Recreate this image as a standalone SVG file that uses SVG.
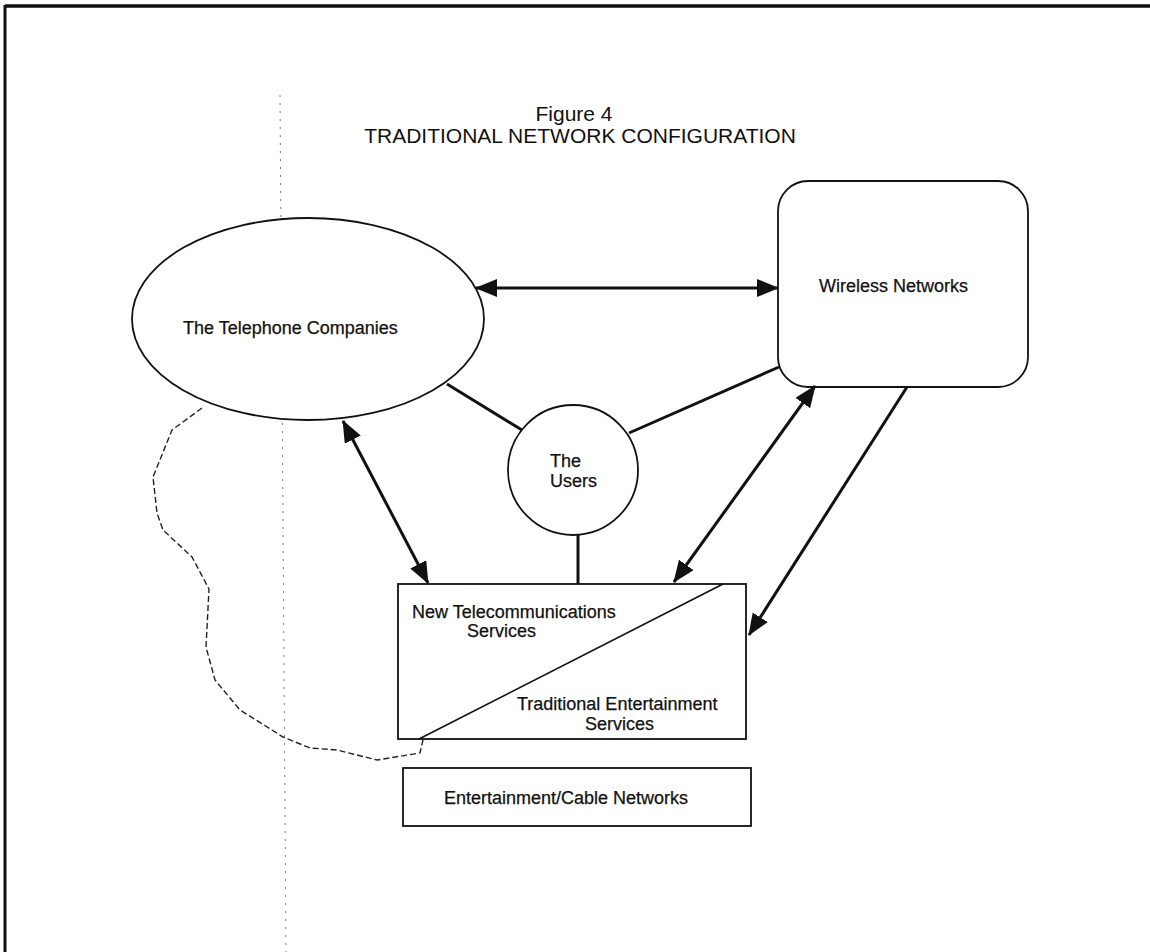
<svg xmlns="http://www.w3.org/2000/svg" width="1150" height="952" viewBox="0 0 1150 952">
<style>
.t{font-family:"Liberation Sans",Arial,sans-serif;font-size:18px;fill:#111;stroke:#111;stroke-width:0.25}
.title{font-family:"Liberation Sans",Arial,sans-serif;font-size:21px;fill:#111;text-anchor:middle}
.shape{fill:#fff;stroke:#111;stroke-width:1.8}
.conn{stroke:#111;stroke-width:3;fill:none}
.dash{stroke:#222;stroke-width:1.4;fill:none;stroke-dasharray:6 3}
.scan{stroke:#777;stroke-width:1;fill:none;stroke-dasharray:2 6}
</style>
<defs>
<marker id="ah" viewBox="0 0 22 18" refX="21" refY="9" markerWidth="22" markerHeight="18" markerUnits="userSpaceOnUse" orient="auto-start-reverse">
<path d="M0,0 L22,9 L0,18 Z" fill="#111"/>
</marker>
</defs>
<rect width="1150" height="952" fill="#fff"/>
<g id="frame">
<line x1="5" y1="6" x2="1150" y2="6" stroke="#111" stroke-width="3.5"/>
<line x1="5" y1="5" x2="5" y2="952" stroke="#111" stroke-width="3"/>
<line class="scan" x1="280" y1="95" x2="286" y2="952"/>
</g>
<g id="title">
<text class="title" x="574" y="121">Figure 4</text>
<text class="title" x="580" y="143">TRADITIONAL NETWORK CONFIGURATION</text>
</g>
<g id="telephone">
<ellipse class="shape" cx="308" cy="319" rx="176" ry="101"/>
<text class="t" x="183" y="334">The Telephone Companies</text>
</g>
<g id="wireless">
<rect class="shape" x="778" y="181" width="250" height="206" rx="30"/>
<text class="t" x="819" y="292">Wireless Networks</text>
</g>
<g id="users">
<circle class="shape" cx="573" cy="470" r="65"/>
<text class="t" x="550" y="467">The</text>
<text class="t" x="550" y="487">Users</text>
</g>
<g id="services">
<rect class="shape" x="398" y="584" width="348" height="155"/>
<line x1="419" y1="739" x2="723" y2="584" stroke="#111" stroke-width="1.6"/>
<text class="t" x="412" y="618">New Telecommunications</text>
<text class="t" x="467" y="637">Services</text>
<text class="t" x="517" y="710">Traditional Entertainment</text>
<text class="t" x="585" y="730">Services</text>
</g>
<g id="cable">
<rect class="shape" x="403" y="768" width="348" height="58"/>
<text class="t" x="444" y="804">Entertainment/Cable Networks</text>
</g>
<g id="connectors">
<line class="conn" x1="476" y1="288" x2="778" y2="288" marker-start="url(#ah)" marker-end="url(#ah)"/>
<line class="conn" x1="343" y1="421" x2="428" y2="583" marker-start="url(#ah)" marker-end="url(#ah)"/>
<line class="conn" x1="815" y1="386" x2="674" y2="582" marker-start="url(#ah)" marker-end="url(#ah)"/>
<line class="conn" x1="907" y1="387" x2="749" y2="635" marker-end="url(#ah)"/>
<line class="conn" x1="447" y1="384" x2="522" y2="430"/>
<line class="conn" x1="629" y1="433" x2="779" y2="367"/>
<line class="conn" x1="578" y1="535" x2="578" y2="584"/>
<polyline class="dash" points="202,408 172,430 153,477 157,513 163,530 192,557 209,589 206,647 215,680 240,710 283,737 310,748 337,750 377,760 420,753 423,740"/>
</g>
</svg>
